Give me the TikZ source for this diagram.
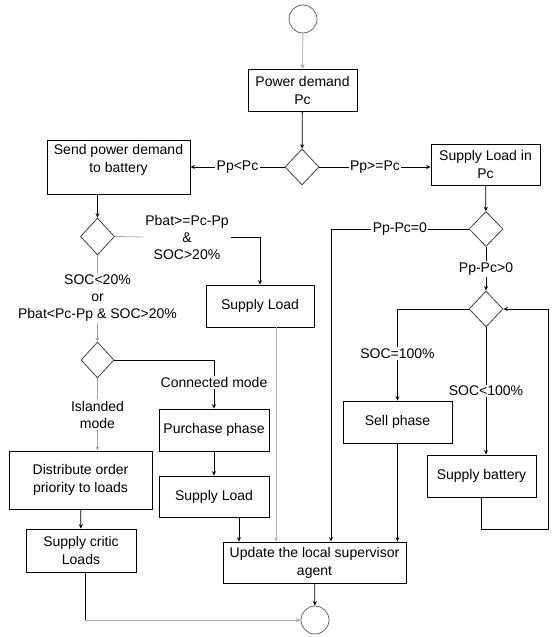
\documentclass[tikz,border=0pt]{standalone}
\usepackage{fontspec}
\setmainfont{Liberation Sans}
\usetikzlibrary{shapes.geometric,arrows.meta}
\definecolor{steel}{RGB}{165,180,195}

\begin{document}
\begin{tikzpicture}[x=1pt,y=-1pt,line width=0.8pt,
    >={Stealth[length=4.5pt,width=4pt]},
    font=\fontsize{14}{18}\selectfont,
    box/.style={draw,rectangle,align=center,inner sep=1pt},
    decision/.style={draw=black!75,diamond,inner sep=0pt,minimum width=34pt,minimum height=36pt},
    term/.style={draw=black!60,circle,minimum size=28pt,inner sep=0pt},
    lbl/.style={fill=white,inner sep=1.5pt,align=center,font=\fontsize{14}{17}\selectfont},
    gline/.style={draw=black!35},
    bline/.style={draw=steel}]
    \useasboundingbox (0,0) rectangle (558,637);
    \node[term] (start) at (303,19) {};
    \node[box,minimum width=109pt,minimum height=42pt] (pd) at (302.5,90) {Power demand\\Pc};
    \node[decision] (d1) at (302,167) {};
    \node[box,minimum width=143pt,minimum height=54pt] (send) at (118.5,167) {Send power demand\\to battery\\\mbox{}};
    \node[box,minimum width=109pt,minimum height=41pt] (sli) at (485.5,164.5) {Supply Load in\\Pc};
    \node[decision,minimum height=35pt] (d2) at (486,229) {};
    \node[decision] (d3) at (486,309) {};
    \node[box,minimum width=109pt,minimum height=42pt] (sell) at (397.5,422) {Sell phase};
    \node[box,minimum width=109pt,minimum height=42pt] (batt) at (481.5,476) {Supply battery};
    \node[box,minimum width=183pt,minimum height=41pt] (upd) at (314.5,562.5) {Update the local supervisor\\agent};
    \node[term] (stop) at (315,620) {};
    \node[decision,minimum height=37pt] (d4) at (97.5,236.5) {};
    \node[lbl] (cond1) at (187,237) {Pbat>=Pc-Pp\\\&\\SOC>20\%};
    \node[box,minimum width=108pt,minimum height=42pt] (sl1) at (260,306) {Supply Load};
    \node[decision,minimum width=33pt] (d5) at (97.5,360) {};
    \node[box,minimum width=110pt,minimum height=42pt] (purch) at (214,430) {Purchase phase};
    \node[box,minimum width=110pt,minimum height=41pt] (sl2) at (214,496.5) {Supply Load};
    \node[box,minimum width=143pt,minimum height=58pt] (dist) at (80.5,480) {Distribute order\\priority to loads};
    \node[box,minimum width=110pt,minimum height=43pt] (crit) at (81,550.5) {Supply critic\\Loads};
    \coordinate (eq) at (331,0);

    \draw[->,gline] (start) -- (pd);
    \draw[->] (pd) -- (d1);
    \draw[->] (d1) -- node[lbl]{Pp<Pc} (send);
    \draw[->] (d1.east) -- node[lbl]{Pp>=Pc} (d1.east -| sli.west);
    \draw[->] (sli) -- (d2);
    \draw[->] (d2) -- node[lbl]{Pp-Pc>0} (d3);
    \draw[->] (d2.west) -| node[lbl,pos=0.25]{Pp-Pc=0} (eq |- upd.north);
    \draw[->] (d3.west) -| node[lbl,pos=0.745]{SOC=100\%} (sell.north);
    \draw[->] (d3.south) -- node[lbl]{SOC<100\%} (d3.south |- batt.north);
    \draw[->] (batt.south) -- ++(0,32) -| ([xshift=45pt]d3.east) -- (d3.east);
    \draw[->] (sell.south) -- (sell.south |- upd.north);
    \draw[->] (upd) -- (stop);
    \draw[->] (send.south -| d4) -- (d4.north);
    \draw[gline] (d4.east) -- (cond1.west);
    \draw[->] (cond1.east) -| (sl1.north);
    \draw[->,bline] ([xshift=16pt]sl1.south) -- ([xshift=16pt]sl1.south |- upd.north);
    \draw[->,gline] (d4.south) -- node[lbl]{SOC<20\%\\or\\Pbat<Pc-Pp \& SOC>20\%} (d5.north);
    \draw[->] (d5.east) -| node[lbl,pos=0.735]{Connected mode} (purch.north);
    \draw[->,gline] (d5.south) -- node[lbl]{Islanded\\mode} (d5.south |- dist.north);
    \draw[->] (purch) -- (sl2);
    \draw[->] ([xshift=25pt]sl2.south) -- ([xshift=25pt]sl2.south |- upd.north);
    \draw[->] (dist) -- (crit);
    \draw ([xshift=4pt]crit.south) -- ([xshift=4pt]crit.south |- stop.west);
    \draw[->,gline] ([xshift=4pt]crit.south |- stop.west) -- (stop.west);
\end{tikzpicture}
\end{document}
